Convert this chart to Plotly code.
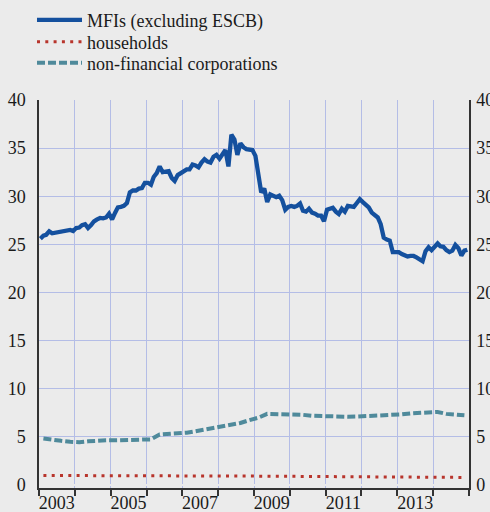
import plotly.graph_objects as go

# ---------------- data ----------------
years = list(range(2003, 2015))          # 2003 .. 2014
label_years = [2003, 2005, 2007, 2009, 2011, 2013]
y_ticks = [0, 5, 10, 15, 20, 25, 30, 35, 40]

# monthly dates (mid-month), Jan 2003 .. Dec 2014
months = [f"{y}-{m:02d}-15" for y in years for m in range(1, 13)]
# quarterly dates (mid-quarter)
quarters = [f"{y}-{m:02d}-15" for y in years for m in (2, 5, 8, 11)]

mfi = [
    25.6, 25.9, 26.0, 26.35, 26.15, 26.2, 26.25, 26.3, 26.3, 26.4, 26.5, 26.4,      # 2003
    26.7, 26.75, 27.0, 27.1, 26.7, 27.0, 27.4, 27.6, 27.75, 27.7, 27.8, 28.2,       # 2004
    27.6, 28.3, 28.85, 28.9, 29.0, 29.3, 30.4, 30.6, 30.6, 30.8, 30.85, 31.4,       # 2005
    31.4, 31.2, 32.0, 32.4, 33.1, 32.5, 32.5, 32.6, 31.9, 31.6, 32.2, 32.4,         # 2006
    32.7, 32.8, 32.8, 33.3, 33.2, 33.0, 33.5, 33.85, 33.6, 33.5, 34.1, 34.3,        # 2007
    33.9, 34.4, 34.8, 33.1, 36.4, 35.9, 34.3, 35.5, 35.1, 34.9, 34.8, 34.8,         # 2008
    34.2, 32.4, 30.4, 30.8, 29.4, 30.2, 30.0, 29.9, 30.05, 29.6, 28.6, 28.9,        # 2009
    29.0, 28.9, 29.0, 29.25, 28.5, 28.4, 28.7, 28.3, 28.2, 28.0, 28.0, 27.4,        # 2010
    28.6, 28.75, 28.8, 28.4, 28.15, 28.7, 28.4, 29.0, 28.95, 28.9, 29.3, 29.7,      # 2011
    29.4, 29.15, 28.85, 28.3, 28.0, 27.8, 27.1, 25.7, 25.5, 25.4, 24.2, 24.2,       # 2012
    24.2, 24.0, 23.9, 23.75, 23.8, 23.8, 23.65, 23.4, 23.25, 24.3, 24.7, 24.4,      # 2013
    24.8, 25.1, 24.8, 24.75, 24.4, 24.2, 24.35, 24.95, 24.6, 23.85, 24.35, 24.45,   # 2014
]

households = [
    1.0, 1.0, 1.0, 1.0,
    1.0, 1.0, 1.0, 1.0,
    1.0, 1.0, 1.0, 1.0,
    1.0, 1.0, 0.98, 0.98,
    0.97, 0.97, 0.96, 0.96,
    0.95, 0.95, 0.95, 0.94,
    0.93, 0.93, 0.92, 0.92,
    0.91, 0.9, 0.9, 0.89,
    0.88, 0.88, 0.87, 0.87,
    0.86, 0.85, 0.85, 0.84,
    0.84, 0.83, 0.83, 0.82,
    0.82, 0.81, 0.81, 0.8,
]

nfc = [
    4.85, 4.7, 4.6, 4.5,
    4.45, 4.55, 4.65, 4.65,
    4.65, 4.65, 4.65, 4.65,
    4.75, 5.25, 5.3, 5.35,
    5.45, 5.6, 5.75, 5.9,
    6.05, 6.2, 6.45, 6.75,
    7.0, 7.4, 7.4, 7.4,
    7.35, 7.3, 7.2, 7.15,
    7.1, 7.1, 7.1, 7.12,
    7.15, 7.2, 7.25, 7.3,
    7.35, 7.45, 7.5, 7.5,
    7.6, 7.4, 7.35, 7.25,
]

# ---------------- styles ----------------
BG = "#ebebeb"
GRID = "#b4bde6"
AXIS = "#333333"
FONT = dict(family="Liberation Serif, Times New Roman, serif", size=18, color="#1a1a1a")

fig = go.Figure()
fig.add_trace(go.Scatter(x=months, y=mfi, mode="lines", name="MFIs (excluding ESCB)",
                         line=dict(color="#14509e", width=4.3), legend="legend"))
fig.add_trace(go.Scatter(x=quarters, y=households, mode="lines", name="households",
                         line=dict(color="#b8352c", width=3, dash="3px,5.3px"), legend="legend2"))
fig.add_trace(go.Scatter(x=quarters, y=nfc, mode="lines", name="non-financial corporations",
                         line=dict(color="#4f8a9b", width=4, dash="8px,3px"),
                         legend="legend3", yaxis="y2"))


def leg(ypos):
    return dict(xref="container", yref="container", x=0.0653, y=ypos,
                xanchor="left", yanchor="top", bgcolor="rgba(0,0,0,0)",
                font=FONT, itemwidth=45, tracegroupgap=0)


year_starts = [f"{y}-01-01" for y in years + [2015]]
fig.update_layout(
    width=490, height=512,
    paper_bgcolor=BG, plot_bgcolor=BG,
    font=FONT,
    margin=dict(l=39, r=21, t=100, b=24, autoexpand=False),
    showlegend=True,
    legend=leg(0.9969),
    legend2=leg(0.9539),
    legend3=leg(0.9129),
    xaxis=dict(
        type="date",
        range=["2003-01-01", "2015-01-01"],
        tickmode="array",
        tickvals=[f"{y}-07-01" for y in label_years],
        ticktext=[str(y) for y in label_years],
        ticks="", showgrid=False, tickangle=0,
        showline=True, linecolor=AXIS, linewidth=1.5,
        minor=dict(tickmode="array", tickvals=year_starts, ticks="outside",
                   ticklen=6, tickwidth=1.5, tickcolor=AXIS,
                   showgrid=True, gridcolor=GRID, gridwidth=1),
        tickfont=FONT, ticklabelstandoff=-2,
        zeroline=False,
    ),
    yaxis=dict(
        range=[-0.3, 40], tickmode="array", tickvals=y_ticks,
        ticks="", showgrid=True, gridcolor=GRID, gridwidth=1,
        zeroline=True, zerolinecolor=BG,
        showline=True, linecolor=AXIS, linewidth=1.5,
        tickfont=FONT, ticklabelstandoff=8,
    ),
    yaxis2=dict(
        matches="y", overlaying="y", side="right", tickmode="array",
        tickvals=y_ticks, ticks="", showgrid=False, zeroline=False,
        showline=True, linecolor=AXIS, linewidth=1.5,
        tickfont=FONT, ticklabelstandoff=2,
    ),
)

fig.write_html("out.html", config={"displayModeBar": False},
               post_script="document.body.style.margin='0';")
